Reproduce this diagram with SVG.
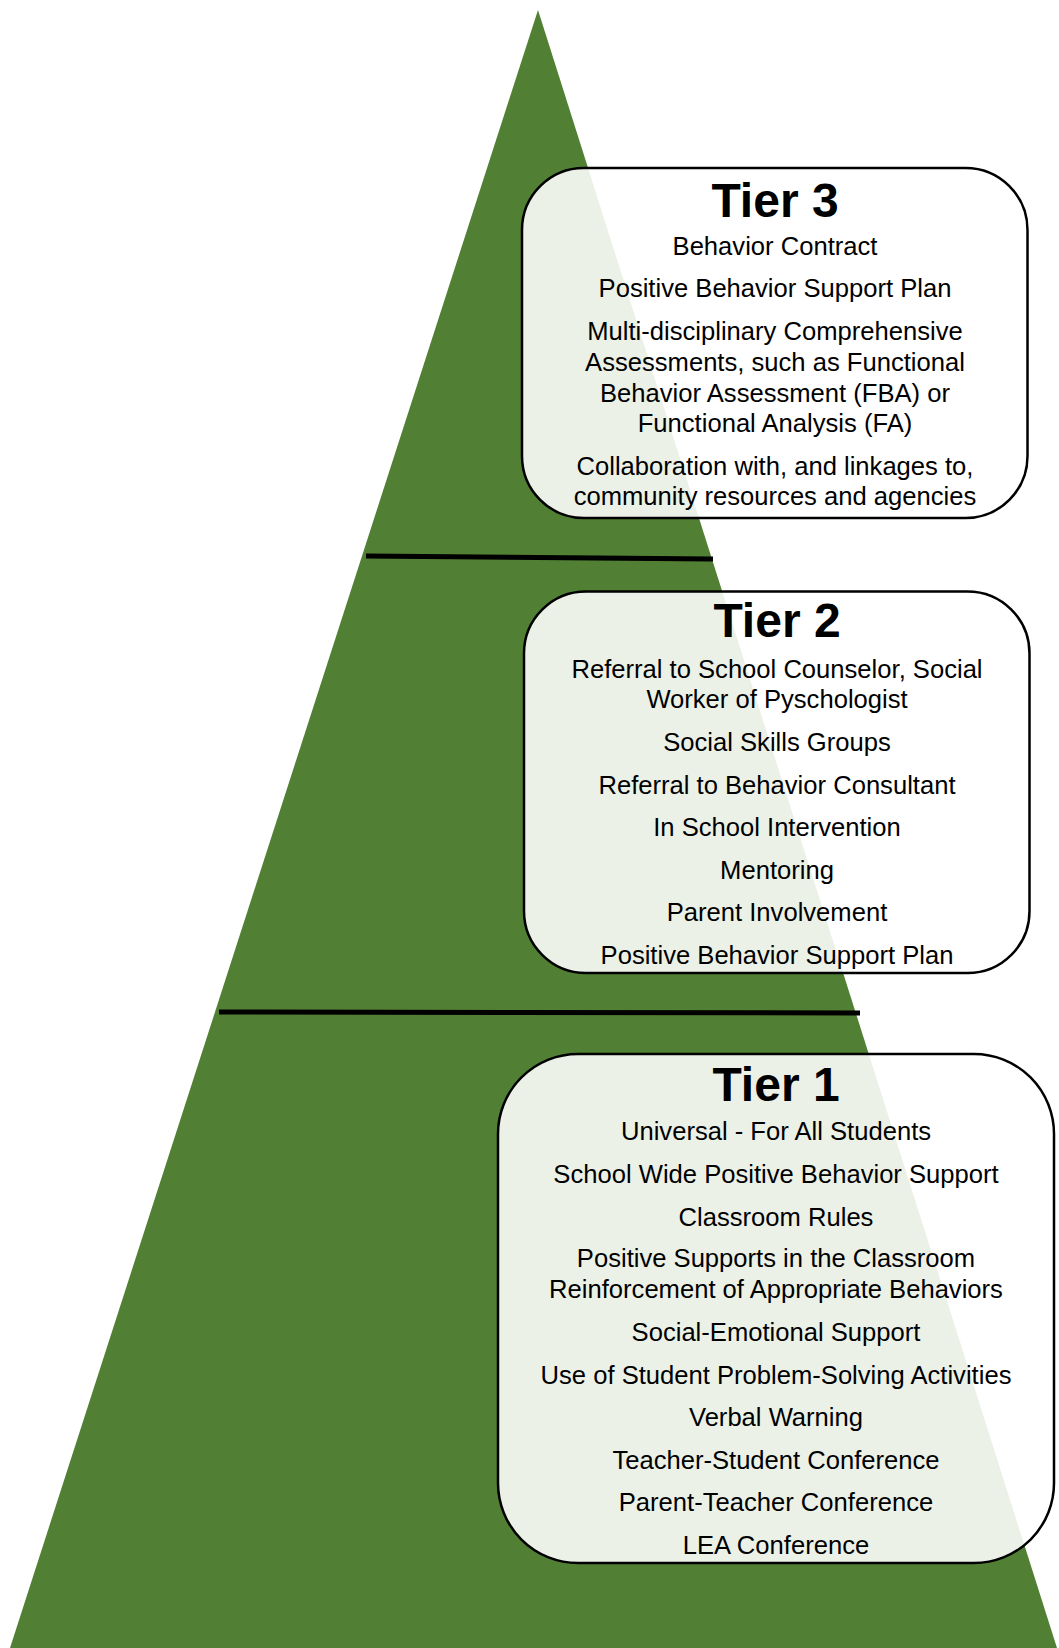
<svg xmlns="http://www.w3.org/2000/svg" width="1059" height="1648" viewBox="0 0 1059 1648">
<style>
.box{fill:#ffffff;fill-opacity:0.89;stroke:#000;stroke-width:2.5}
.t{font-family:"Liberation Sans",Arial,sans-serif;font-size:25.6px;fill:#000;text-anchor:middle}
.h{font-family:"Liberation Sans",Arial,sans-serif;font-size:48px;font-weight:bold;fill:#000;text-anchor:middle}
.sep{stroke:#000;stroke-width:5}
</style>
<rect width="1059" height="1648" fill="#fff"/>
<polygon id="pyramid" points="538,10 10,1648 1057,1648" fill="#517F33"/>
<g id="connectors">
<line class="sep" x1="366" y1="556" x2="713" y2="559"/>
<line class="sep" x1="219" y1="1012" x2="860" y2="1013"/>
</g>
<g id="tier3">
<rect class="box" x="522" y="168" width="505.5" height="350" rx="62" ry="62"/>
<text class="h" x="775" y="217">Tier 3</text>
<text class="t" x="775" y="255">Behavior Contract</text>
<text class="t" x="775" y="297">Positive Behavior Support Plan</text>
<text class="t" x="775" y="340">Multi-disciplinary Comprehensive</text>
<text class="t" x="775" y="371">Assessments, such as Functional</text>
<text class="t" x="775" y="402">Behavior Assessment (FBA) or</text>
<text class="t" x="775" y="432">Functional Analysis (FA)</text>
<text class="t" x="775" y="475">Collaboration with, and linkages to,</text>
<text class="t" x="775" y="505">community resources and agencies</text>
</g>
<g id="tier2">
<rect class="box" x="524" y="591.5" width="505.5" height="381.5" rx="62" ry="62"/>
<text class="h" x="777" y="637">Tier 2</text>
<text class="t" x="777" y="678">Referral to School Counselor, Social</text>
<text class="t" x="777" y="708">Worker of Pyschologist</text>
<text class="t" x="777" y="751">Social Skills Groups</text>
<text class="t" x="777" y="794">Referral to Behavior Consultant</text>
<text class="t" x="777" y="836">In School Intervention</text>
<text class="t" x="777" y="879">Mentoring</text>
<text class="t" x="777" y="921">Parent Involvement</text>
<text class="t" x="777" y="964">Positive Behavior Support Plan</text>
</g>
<g id="tier1">
<rect class="box" x="498" y="1054" width="556" height="509" rx="80" ry="80"/>
<text class="h" x="776" y="1101">Tier 1</text>
<text class="t" x="776" y="1140">Universal - For All Students</text>
<text class="t" x="776" y="1183">School Wide Positive Behavior Support</text>
<text class="t" x="776" y="1226">Classroom Rules</text>
<text class="t" x="776" y="1267">Positive Supports in the Classroom</text>
<text class="t" x="776" y="1298">Reinforcement of Appropriate Behaviors</text>
<text class="t" x="776" y="1341">Social-Emotional Support</text>
<text class="t" x="776" y="1384">Use of Student Problem-Solving Activities</text>
<text class="t" x="776" y="1426">Verbal Warning</text>
<text class="t" x="776" y="1469">Teacher-Student Conference</text>
<text class="t" x="776" y="1511">Parent-Teacher Conference</text>
<text class="t" x="776" y="1554">LEA Conference</text>
</g>
</svg>
